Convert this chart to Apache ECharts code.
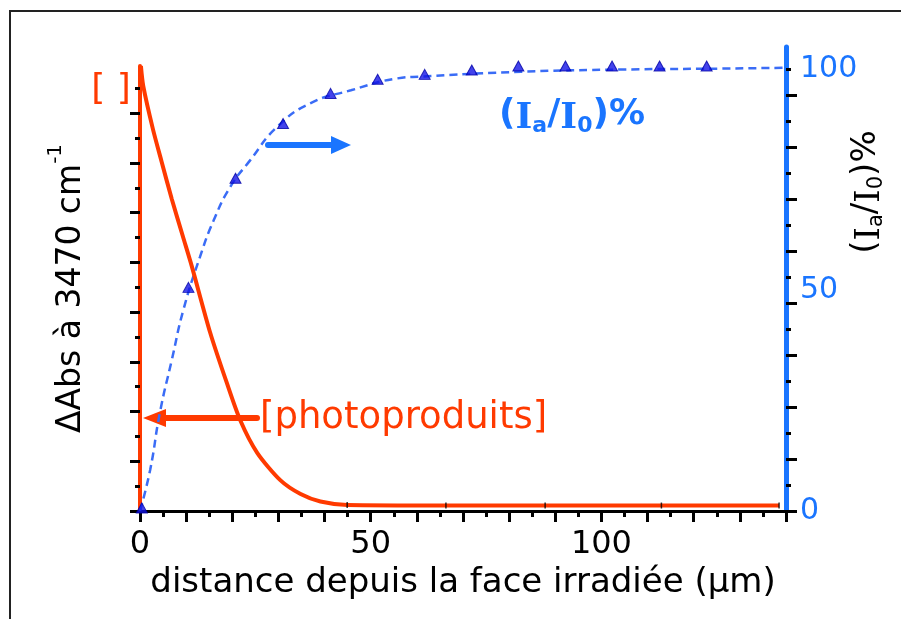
<!DOCTYPE html>
<html>
<head>
<meta charset="utf-8">
<script src="https://cdn.jsdelivr.net/npm/echarts@6/dist/echarts.min.js"></script>
<style>
  html, body { margin: 0; padding: 0; background: #fff; }
  #chart { width: 901px; height: 619px; }
</style>
</head>
<body>
<div id="chart"></div>
<script>
// axe x : distance (µm)
const distanceLabels = [0, 50, 100];
// axe droit (Ia/I0)%
const ratioLabels = [0, 50, 100];
const ratioTickStep = 100 / 8.5;
const ratioTicks = [0, 1, 2, 3, 4, 5, 6, 7, 8].map(i => i * ratioTickStep);
// axe gauche, sans graduations chiffrées
const absTicks = [0, 1, 2, 3, 4, 5, 6, 7, 8];

// [photoproduits] : ΔAbs à 3470 cm-1
const photoX = [0.2, 0.7, 2.8, 4.7, 6.9, 9.3, 11.2, 15.2, 18.8, 21.7, 25.4, 30.4, 34.8, 39.1, 44.9, 66.3, 87.8, 113, 138.5];
const photoY = [8.95, 8.55, 7.68, 7.02, 6.27, 5.52, 4.93, 3.59, 2.58, 1.83, 1.17, 0.62, 0.34, 0.19, 0.12, 0.11, 0.11, 0.11, 0.11];
const photoMarkX = [44.9, 66.3, 87.8, 113, 138.5];
const photoMarkY = [0.12, 0.11, 0.11, 0.11, 0.11];

// (Ia/I0)% mesuré
const ratioX = [0.4, 10.5, 20.7, 31.0, 41.3, 51.5, 61.7, 71.9, 82.0, 92.2, 102.3, 112.6, 122.8];
const ratioY = [0.7, 50.6, 75.3, 87.7, 94.5, 97.7, 98.8, 99.8, 100.7, 100.7, 100.7, 100.7, 100.7];

// courbe ajustée (pointillés)
const fitX = [0, 2.2, 4.3, 6.9, 9.4, 13.0, 15.9, 19.6, 23.9, 29.7, 37.0, 45.7, 55.8, 60.9, 82.6, 104.3, 124.6, 140];
const fitY = [0, 9.3, 22.2, 34.2, 45.5, 57.5, 65.6, 73.4, 79.4, 86.9, 92.3, 95.2, 97.9, 98.3, 99.4, 99.9, 100.1, 100.3];

const RED = '#ff3a00';
const BLUE = '#1a75ff';
const FONT = 'DejaVu Sans';

const zip = (xs, ys) => xs.map((x, i) => [x, ys[i]]);

const chart = echarts.init(document.getElementById('chart'));

chart.setOption({
  animation: false,
  backgroundColor: '#fff',
  grid: [
    { left: 140, right: 115, top: 66, bottom: 108, outerBoundsMode: 'none' },
    { left: 140, right: 115, top: 47, bottom: 108, outerBoundsMode: 'none' },
  ],
  xAxis: [{
    gridIndex: 0,
    type: 'value',
    min: 0,
    max: 140,
    interval: 10,
    name: 'distance depuis la face irradiée (µm)',
    nameLocation: 'middle',
    nameGap: 46,
    nameTextStyle: { fontSize: 34, fontFamily: FONT, color: '#000' },
    axisLine: { onZero: false, lineStyle: { color: '#000', width: 3 } },
    axisTick: { length: 11, lineStyle: { color: '#000', width: 3 } },
    minorTick: { show: true, splitNumber: 2, length: 6, lineStyle: { color: '#000', width: 3 } },
    axisLabel: { customValues: distanceLabels, fontSize: 32, fontFamily: FONT, color: '#000', margin: 18 },
    splitLine: { show: false },
  }, {
    gridIndex: 1,
    type: 'value',
    min: 0,
    max: 140,
    show: false,
  }],
  yAxis: [{
    gridIndex: 0,
    type: 'value',
    position: 'left',
    min: 0,
    max: 8.95,
    interval: 1,
    name: '{m|ΔAbs à 3470 cm}{s|-1}',
    nameLocation: 'middle',
    nameRotate: 90,
    nameGap: 52,
    nameTextStyle: {
      color: '#000',
      rich: {
        m: { fontSize: 33, fontFamily: FONT, color: '#000', lineHeight: 42, verticalAlign: 'bottom' },
        s: { fontSize: 20, fontFamily: FONT, color: '#000', lineHeight: 22, verticalAlign: 'top' },
      },
    },
    axisLine: { show: true, onZero: false, lineStyle: { color: RED, width: 4 } },
    axisTick: { customValues: absTicks, length: 10, lineStyle: { color: '#000', width: 3 } },
    minorTick: { show: true, splitNumber: 2, length: 5, lineStyle: { color: '#000', width: 3 } },
    axisLabel: { show: false },
    splitLine: { show: false },
  }, {
    gridIndex: 1,
    type: 'value',
    position: 'right',
    min: 0,
    max: 105,
    interval: ratioTickStep,
    axisLine: { show: true, onZero: false, lineStyle: { color: BLUE, width: 5 } },
    axisTick: { customValues: ratioTicks, length: 11, lineStyle: { color: '#000', width: 3 } },
    minorTick: { show: true, splitNumber: 2, length: 5, lineStyle: { color: '#000', width: 3 } },
    axisLabel: { customValues: ratioLabels, fontSize: 30, fontFamily: FONT, color: BLUE, margin: 14, padding: [8, 0, 0, 0] },
    splitLine: { show: false },
  }],
  series: [{
    name: '[photoproduits]',
    type: 'line',
    xAxisIndex: 0,
    yAxisIndex: 0,
    data: zip(photoX, photoY),
    smooth: 0.25,
    showSymbol: false,
    clip: false,
    lineStyle: { color: RED, width: 4 },
    z: 3,
  }, {
    type: 'scatter',
    xAxisIndex: 0,
    yAxisIndex: 0,
    data: zip(photoMarkX, photoMarkY),
    symbol: 'rect',
    symbolSize: [1.5, 6],
    itemStyle: { color: '#000' },
    z: 4,
  }, {
    name: 'ajustement',
    type: 'line',
    xAxisIndex: 1,
    yAxisIndex: 1,
    data: zip(fitX, fitY),
    smooth: true,
    showSymbol: false,
    clip: false,
    lineStyle: { color: '#3a6cf6', width: 2.5, type: [8, 5] },
    z: 2,
  }, {
    name: '(Ia/I0)%',
    type: 'scatter',
    xAxisIndex: 1,
    yAxisIndex: 1,
    data: zip(ratioX, ratioY),
    symbol: 'triangle',
    symbolSize: [11, 10],
    clip: false,
    itemStyle: { color: '#1414e6', borderColor: '#0000a8', borderWidth: 1 },
    z: 5,
  }],
  graphic: [
    // cadre
    { type: 'polyline', shape: { points: [[10, 619], [10, 11], [901, 11]] }, style: { stroke: '#222', lineWidth: 2, fill: null }, silent: true },
    // [ ]
    { type: 'text', x: 111, y: 90, style: { text: '[ ]', fill: RED, font: '36px "DejaVu Sans"', align: 'center', verticalAlign: 'middle' } },
    // (Ia/I0)% en bleu
    {
      type: 'text', x: 572, y: 115,
      style: {
        text: '({i|I}{s|a}/{i|I}{s|0})%',
        fill: BLUE,
        font: 'bold 36px "DejaVu Sans"',
        align: 'center',
        verticalAlign: 'middle',
        rich: {
          i: { fontFamily: 'DejaVu Serif', fontWeight: 'bold', fontSize: 36, fill: BLUE, lineHeight: 44, verticalAlign: 'bottom' },
          s: { fontFamily: FONT, fontWeight: 'bold', fontSize: 22, fill: BLUE, lineHeight: 22, verticalAlign: 'bottom' },
        },
      },
    },
    // flèche bleue
    { type: 'line', shape: { x1: 268, y1: 145, x2: 334, y2: 145 }, style: { stroke: BLUE, lineWidth: 6, lineCap: 'round' } },
    { type: 'polygon', shape: { points: [[331, 136], [351, 145], [331, 154]] }, style: { fill: BLUE } },
    // flèche rouge
    { type: 'line', shape: { x1: 257, y1: 418, x2: 163, y2: 418 }, style: { stroke: RED, lineWidth: 6, lineCap: 'round' } },
    { type: 'polygon', shape: { points: [[166, 409], [143, 418], [166, 427]] }, style: { fill: RED } },
    // [photoproduits]
    { type: 'text', x: 260, y: 418, style: { text: '[photoproduits]', fill: RED, font: '37px "DejaVu Sans"', align: 'left', verticalAlign: 'middle' } },
    // titre de l'axe droit
    {
      type: 'text', x: 866, y: 192, rotation: Math.PI / 2,
      style: {
        text: '({i|I}{s|a}/{i|I}{s|0})%',
        fill: '#000',
        font: '34px "DejaVu Sans"',
        align: 'center',
        verticalAlign: 'middle',
        rich: {
          i: { fontFamily: 'DejaVu Serif', fontSize: 34, fill: '#000', lineHeight: 42, verticalAlign: 'bottom' },
          s: { fontFamily: FONT, fontSize: 21, fill: '#000', lineHeight: 21, verticalAlign: 'bottom' },
        },
      },
    },
  ],
});
</script>
</body>
</html>
